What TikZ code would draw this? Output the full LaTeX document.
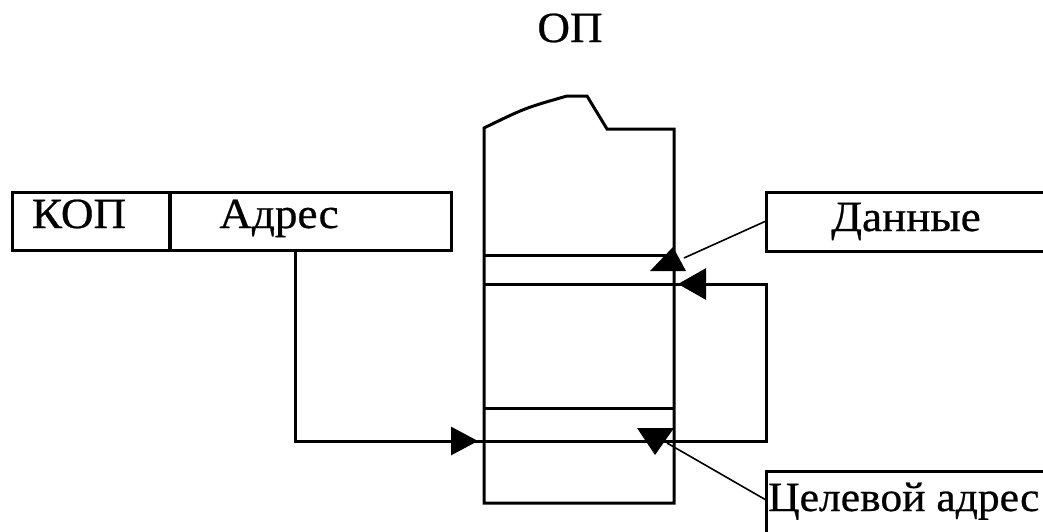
\documentclass[tikz,border=0pt]{standalone}
\usepackage{fontspec}
\setmainfont[FakeStretch=1.05,FakeBold=0.6]{Liberation Serif}
\usetikzlibrary{arrows.meta}
\begin{document}
\begin{tikzpicture}[x=1pt,y=-1pt,
  ln/.style={line width=3pt},
  thin/.style={line width=1.6pt},
  lbl/.style={font=\fontsize{43}{50}\selectfont, inner sep=0pt, anchor=base},
  tri/.style={fill=black, draw=none},
  arrR/.style={ln, -{Triangle[length=27pt,width=28pt]}},
  arrL/.style={ln, -{Triangle[length=28pt,width=31pt]}}
]
\useasboundingbox (0,0) rectangle (1043,531);
% title
\node[lbl] (op) at (570,42) {ОП};
% instruction
\node[draw, ln, minimum width=158pt, minimum height=58pt, inner sep=0pt] (kopbox) at (91,221) {};
\node[draw, ln, minimum width=282pt, minimum height=58pt, inner sep=0pt] (adrbox) at (310,221) {};
\node[lbl] (kop) at (79,228) {КОП};
\node[lbl] (adr) at (279,228) {Адрес};
% memory column
\coordinate (mtl) at (484,128);
\coordinate (mtr) at (674,129);
\draw[ln, line join=miter] (484,503) -- (mtl) .. controls (525,108) .. (567,96) -- (587,96) -- (607,129) -- (mtr) -- (674,503) -- cycle;
\draw[ln] (484,255) -- (674,255);
\draw[ln] (484,408) -- (674,408);
% data box (open to the right)
\coordinate (dtl) at (766,192);
\draw[ln] (1045,192) -- (dtl) -- (766,251) -- (1045,251);
\node[lbl] (dat) at (906,231) {Данные};
% target box (open to the right and bottom)
\coordinate (ttl) at (766,471);
\draw[ln] (1045,471) -- (ttl) -- (766,533);
\node[lbl, font=\fontsize{41.5}{48}\selectfont, anchor=base west] (tgt) at (768,511) {Целевой адрес};
% address path
\coordinate (a1) at (295,441);
\coordinate (tipR) at (478,441);
\coordinate (c1) at (766,441);
\coordinate (c2) at (766,284);
\coordinate (tipL) at (678,284);
\draw[ln] (adrbox.south -| 295,0) -- (a1) -- (c1) -- (c2) -- (484,284);
\draw[arrR] (a1) -- (tipR);
\draw[arrL] (c2) -- (tipL);
% data connector
\coordinate (dline) at (766,221);
\coordinate (dend) at (684,258);
\draw[thin] (dline) -- (dend);
\fill[tri] (650,271) -- (673,247) -- (686,271) -- cycle;
% target connector
\coordinate (tstart) at (667,443);
\coordinate (tline) at (766,500);
\draw[thin] (tstart) -- (tline);
\fill[tri] (637,428) -- (674,428) -- (655,455) -- cycle;
\end{tikzpicture}
\end{document}
